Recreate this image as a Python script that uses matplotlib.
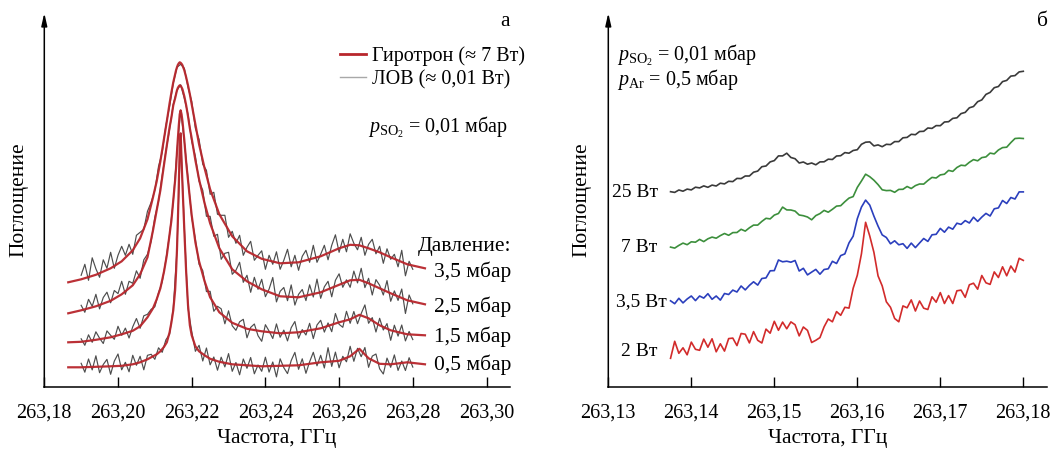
import numpy as np
import matplotlib
matplotlib.use('Agg')
import matplotlib.pyplot as plt
from matplotlib.lines import Line2D

plt.rcParams['font.family'] = ['Liberation Serif', 'DejaVu Serif']
plt.rcParams['mathtext.fontset'] = 'custom'
plt.rcParams['mathtext.rm'] = 'Liberation Serif'
plt.rcParams['mathtext.it'] = 'Liberation Serif:italic'

# ---------------- panel "а": SO2 line, BWO (noisy) vs gyrotron fit ----------------
base_a = 263.18  # GHz; frequency offsets below are in MHz
fit_mhz = [6.5, 10, 14, 18, 21, 24, 26, 28, 29.5, 30.5, 31.5, 32.5, 33.25, 34, 34.5, 35,
           35.5, 35.75, 36, 36.25, 36.5, 36.75, 37, 37.25, 37.5, 38, 38.5, 39, 39.5, 40,
           41, 42, 43.5, 45, 47.5, 51, 55, 59, 64, 69, 75, 80, 83, 85.5, 88, 91, 94, 98.5, 103.3]
fit_35 = [105, 108, 112.5, 119, 126, 137, 149, 168, 190, 206, 226, 249, 266, 284, 295, 305,
          313, 317, 320, 322.5, 324, 325, 324.5, 323.5, 322, 317, 310, 302, 293, 283,
          263, 243, 219, 198, 173, 151, 136, 128.5, 124, 125, 131, 139, 142.5, 142, 139, 135, 130, 123, 119]
fit_25 = [74, 77, 81, 86.5, 93, 102, 113, 130, 157, 177, 197, 223, 242, 260, 270, 282,
          289, 293, 297, 299.5, 301, 302, 301.5, 300, 298, 291, 282, 271, 259, 249,
          227, 208, 184, 164, 139, 118, 106, 98, 91, 90, 95, 102.5, 107, 107.5, 104, 99, 94, 87, 83]
fit_15 = [45, 45.5, 47.5, 50, 53, 56.5, 61, 70, 79, 88, 99, 116, 132, 153, 167, 187,
          207, 219, 235, 249, 262, 273, 277, 273, 266, 247, 225, 207, 189, 172,
          145, 126, 106, 90, 75, 64.5, 58.5, 56, 54, 55, 59, 65, 68, 72.5, 69, 62, 57, 53, 52]
fit_05 = [20, 20, 20.5, 21, 21.5, 23, 25, 28, 31, 33, 36, 40.5, 45, 55, 65, 77,
          97, 115, 137, 167, 202, 242, 254, 227, 202, 157, 115, 82, 62, 52,
          41, 36, 32, 28.5, 25.5, 23, 22, 21, 21.5, 22, 25, 26.5, 31, 38.5, 29, 23.5, 23, 25, 23]

bwo_mhz = np.arange(10, 101)
bwo_35 = [112, 123, 107, 129.5, 118.5, 110, 127.5, 119, 135, 119,
          132, 141, 132, 143, 133, 152, 155, 158, 176, 185,
          197, 221, 235, 262, 281, 304, 320, 323, 319, 300,
          286, 259, 248, 223, 217, 193, 195, 173, 172, 172,
          150, 156, 144, 152, 132, 140, 146, 127, 132, 136.5,
          118, 132, 123, 135.5, 118, 127, 138, 120.5, 132, 117,
          131, 137, 125, 142, 125, 133, 142, 127.5, 142, 152.5,
          135, 148, 135.5, 153.5, 144, 137.5, 150, 132, 143, 148,
          133.5, 141, 124, 138.5, 128, 133, 120.5, 137, 111.5, 126, 118]
bwo_25 = [82, 75, 88, 81, 93, 78.4, 89.8, 95.1, 84.5, 96.8,
          93.7, 106, 93, 106, 104, 116.5, 109, 127.5, 133, 146,
          170, 186, 212, 236, 258, 283, 297, 302.5, 289, 273,
          246, 231, 206, 197, 171, 171, 151, 153, 128, 134,
          135, 113, 117, 125, 105, 112, 95, 110, 98, 108,
          90.6, 98.2, 109.8, 85.4, 96, 99.8, 86.6, 102.4, 82.2, 93,
          97.8, 86.7, 102.5, 90.3, 108.2, 89, 100.5, 106, 90.5, 107,
          113.5, 100, 107.5, 100, 116.2, 104.4, 119, 99.7, 109, 92.3,
          107.7, 102, 92.3, 106.7, 86, 96.4, 86.9, 98.3, 73.8, 92.3, 83.5]
bwo_15 = [48.5, 42, 52.5, 45, 55.5, 49.1, 43.8, 56.4, 52, 48,
          61, 52, 59.2, 49.3, 60.5, 68.8, 59, 71.5, 73, 78,
          80.5, 94.5, 105.5, 127.5, 153, 186, 236, 277, 246, 209,
          170, 148, 123, 116.7, 95.7, 96, 76, 81, 78.5, 63.5,
          76.5, 61.5, 57, 65.5, 68, 49.5, 59.9, 63.3, 51.6, 46,
          62.6, 56.2, 48.8, 63.4, 50, 57.2, 46.4, 59.6, 65.8, 49,
          57.7, 52.3, 64, 48.7, 62.3, 67, 55.2, 64.4, 55.6, 73.8,
          63, 60, 76, 64, 75.8, 63.6, 73.8, 82.4, 64, 69.7,
          55.3, 69, 57.3, 63.7, 47, 62.1, 51.2, 62.3, 46.4, 55.9, 47.7]
bwo_05 = [24, 15.1, 28.3, 17.4, 31.5, 14.6, 22.8, 27.9, 13, 26.2,
          33.3, 17.5, 25, 15.5, 32, 22, 31, 17.5, 32, 33,
          28, 39.5, 35, 47.5, 53, 79, 137, 252, 160, 79,
          56, 36, 42, 26.3, 39.3, 22.5, 30.3, 17.1, 30.1, 20.4,
          33.7, 16, 24.8, 12.5, 28.3, 19, 29.8, 13.5, 22.3, 16,
          30.1, 15.2, 25.3, 10.4, 28.5, 19.6, 13.7, 26.8, 34.9, 18,
          28.5, 14, 25.5, 35, 21.5, 32, 19.3, 39.6, 20.9, 35.2,
          19.5, 31, 25.5, 41, 26, 39, 30.6, 39.8, 20, 31.2,
          33.3, 18.5, 13.3, 29.2, 20, 32.4, 16.9, 26.3, 16.8, 29.6, 20.2]

pressure_labels = ['3,5 мбар', '2,5 мбар', '1,5 мбар', '0,5 мбар']
ticks_a = [263.18, 263.20, 263.22, 263.24, 263.26, 263.28, 263.30]
ticklabels_a = ['263,18', '263,20', '263,22', '263,24', '263,26', '263,28', '263,30']

# ---------------- panel "б": gyrotron power series ----------------
base_b = 263.13
pow_mhz = np.arange(7.5, 50.01, 0.5)
pow_25 = [195.6, 194.9, 197.3, 196.1, 198.2, 197.4, 200.1, 199.4, 201.4, 200,
          202.2, 201.3, 204.1, 203.4, 206, 205.7, 208.9, 208.7, 211.3, 211.3,
          215.1, 216.2, 220.6, 221.3, 225.4, 226.7, 231.4, 231.4, 234.1, 229.8,
          228.6, 224.3, 225.3, 223.1, 224.3, 222.5, 225.4, 225.5, 228.1, 227.8,
          231.3, 231.6, 234.7, 234.1, 236.8, 237.6, 243, 245.1, 245.4, 241.4,
          242.4, 240.6, 243, 242.7, 245.7, 245.7, 249.5, 249.9, 253, 252.6,
          255.8, 256, 259.3, 258.9, 261.7, 261.6, 265.3, 265.6, 268.9, 269.5,
          273.7, 274.9, 279.5, 280.8, 285.6, 287.4, 292.9, 294.9, 299.6, 300.8,
          305.7, 306.9, 311.2, 311.7, 315.4, 316]
pow_7 = [140.2, 139.2, 141.9, 144.2, 142.6, 145.5, 145.1, 147.9, 145.7, 148.5,
         150.2, 149.1, 151.7, 153.8, 152, 154.7, 154.8, 158, 156.2, 159.5,
         162.2, 162.2, 165.9, 169, 168.4, 172.2, 173.8, 180.2, 177.4, 177.3,
         176.2, 172.3, 171.6, 170.3, 167.5, 171.7, 173.7, 176.9, 175.1, 178,
         181.2, 181.6, 185.6, 189.2, 190.7, 199.9, 206.3, 213.1, 210.6, 207.1,
         202.7, 197.5, 196.7, 196.9, 195, 197.9, 198, 200.8, 198.8, 201.7,
         203.3, 203.2, 206.8, 209.9, 209.3, 212.4, 213.1, 216.9, 215.9, 219.8,
         222.1, 221.6, 225, 227.7, 226.5, 229.7, 230.4, 234.2, 233.4, 237.3,
         239.7, 240.1, 244.7, 248.8, 249.1, 248.8]
pow_35 = [86.5, 83.6, 89, 84.4, 88.3, 91.3, 86.7, 91.3, 89.2, 93.6,
          88, 91.3, 87.2, 93.8, 92.8, 97.2, 95.3, 101.3, 97.4, 101.9,
          105.5, 102.2, 108.8, 109.4, 116.5, 116.7, 127.3, 125.5, 126.1, 125.1,
          126.8, 116.3, 119, 112.4, 115.2, 117.9, 113.1, 117.8, 118.5, 126,
          123.8, 131.7, 133.4, 144.4, 151.1, 168.6, 180.2, 187.2, 182.2, 171.2,
          161.2, 152.4, 149.8, 143.5, 146.5, 142.5, 143.6, 138.9, 144.2, 139.7,
          144.3, 148.8, 145.9, 152.5, 153, 158.9, 155.1, 160.2, 158.1, 164.1,
          162.9, 166.7, 164.3, 170.1, 165.9, 170.2, 173.9, 171.3, 178.5, 179.4,
          186.8, 183.8, 189.8, 188.3, 195.4, 195.4]
pow_2 = [29, 46, 34, 39.5, 32.5, 45.2, 38, 37, 48.2, 40.1,
         48.5, 35.5, 43.5, 36.2, 48.7, 49.2, 41.7, 53.8, 53.1, 44.4,
         55.7, 47, 44.3, 58.2, 54.1, 66, 57, 65.2, 58.5, 65.4,
         62.6, 51.4, 60.3, 56.9, 44.8, 47, 49.7, 60.5, 68.3, 65.5,
         75.7, 72, 80, 79.2, 99, 112, 133.5, 165, 151.3, 135,
         111.4, 101.4, 85.5, 80, 68.8, 65.5, 81.4, 79.5, 87.4, 76.3,
         86.3, 79.1, 77.8, 90.5, 85.1, 94.7, 83.8, 91.7, 83.8, 96.5,
         97.2, 90, 102.5, 104.1, 98.1, 111.8, 104.5, 102.9, 115.4, 109.8,
         120.5, 111.5, 121.3, 115.2, 129, 126.9]
power_labels = ['25 Вт', '7 Вт', '3,5 Вт', '2 Вт']
power_colors = ['#3a3a3a', '#3c8f3c', '#2b3fbd', '#d22b2b']
ticks_b = [263.13, 263.14, 263.15, 263.16, 263.17, 263.18]
ticklabels_b = ['263,13', '263,14', '263,15', '263,16', '263,17', '263,18']

# ---------------- figure ----------------
W, H = 1059, 450
fig = plt.figure(figsize=(W / 100, H / 100), dpi=100)


def fx(px):
    return px / W


def fy(py):
    return 1 - py / H


ax_a = fig.add_axes([fx(44.3), fy(387.3), (510 - 44.3) / W, (387.3 - 13) / H])
ax_b = fig.add_axes([fx(608.3), fy(387.3), (1047.3 - 608.3) / W, (387.3 - 13) / H])


def style(ax, ticks, labels, ylab_x):
    for s in ['top', 'right', 'left']:
        ax.spines[s].set_visible(False)
    ax.spines['bottom'].set_linewidth(1.1)
    ax.set_yticks([])
    ax.set_xticks(ticks)
    ax.set_xticklabels(labels)
    ax.tick_params(axis='x', direction='in', length=7.5, width=1.0, pad=12, labelsize=14.5)
    ax.set_ylim(0, 374.3)
    ax.annotate('', xy=(0, 1), xycoords='axes fraction', xytext=(0, 0), textcoords='axes fraction',
                arrowprops=dict(arrowstyle='-|>,head_width=0.17,head_length=0.75', lw=1.1,
                                color='black', shrinkA=0, shrinkB=0))
    ax.set_xlabel('Частота, ГГц', fontsize=15.5, va='center')
    ax.xaxis.set_label_coords(0.5, -(439 - 387.3) / 374.3)
    ax.set_ylabel('Поглощение', fontsize=15.5, va='center')
    ax.yaxis.set_label_coords(ylab_x, 0.5)


# panel а
fit_x = base_a + np.array(fit_mhz) / 1000
bwo_x = base_a + bwo_mhz / 1000
for bwo in [bwo_35, bwo_25, bwo_15, bwo_05]:
    ax_a.plot(bwo_x, bwo, color='#2e2e2e', lw=0.85, alpha=0.85)
for fit in [fit_35, fit_25, fit_15, fit_05]:
    ax_a.plot(fit_x, fit, color='#b8262c', lw=1.6, alpha=0.95, solid_joinstyle='round')
ax_a.set_xlim(base_a, base_a + (510 - 44.3) / 3685)
style(ax_a, ticks_a, ticklabels_a, (19 - 44.3) / 465.7)

handles = [Line2D([], [], color='#b8262c', lw=2.0), Line2D([], [], color='#a8a8a8', lw=1.0)]
ax_a.legend(handles, ['Гиротрон (≈ 7 Вт)', 'ЛОВ (≈ 0,01 Вт)'], loc='upper left',
            bbox_to_anchor=(fx(340), fy(46)), bbox_transform=fig.transFigure,
            frameon=False, fontsize=14.5, handlelength=1.3, handletextpad=0.3,
            labelspacing=0.22, borderpad=0, borderaxespad=0)
fig.text(fx(368), fy(127), r'$p_{\mathrm{SO}_2}$ = 0,01 мбар', fontsize=14.5, ha='left', va='center')
fig.text(fx(511), fy(246.5), 'Давление:', fontsize=15.5, ha='right', va='center')
for lab, py in zip(pressure_labels, [271.7, 306.7, 336.7, 365]):
    fig.text(fx(511), fy(py), lab, fontsize=15.5, ha='right', va='center')
fig.text(fx(505), fy(21.7), 'а', fontsize=15.5, ha='center', va='center')

# panel б
pow_x = base_b + pow_mhz / 1000
for vals, c in zip([pow_25, pow_7, pow_35, pow_2], power_colors):
    ax_b.plot(pow_x, vals, color=c, lw=1.2)
ax_b.set_xlim(base_b, base_b + (1047.3 - 608.3) / 8300)
style(ax_b, ticks_b, ticklabels_b, (582 - 608.3) / 439)

for lab, (px, py) in zip(power_labels, [(658, 192.7), (657, 248), (667, 301.7), (657, 351.7)]):
    fig.text(fx(px), fy(py), lab, fontsize=14, ha='right', va='center')
fig.text(fx(617), fy(67.5), '$p_{\\mathrm{SO}_2}$ = 0,01 мбар\n$p_{\\mathrm{Ar}}$ = 0,5 мбар',
         fontsize=14.5, ha='left', va='center', linespacing=0.95)
fig.text(fx(1042), fy(21.7), 'б', fontsize=15.5, ha='center', va='center')

fig.savefig('out.png', dpi=100)
